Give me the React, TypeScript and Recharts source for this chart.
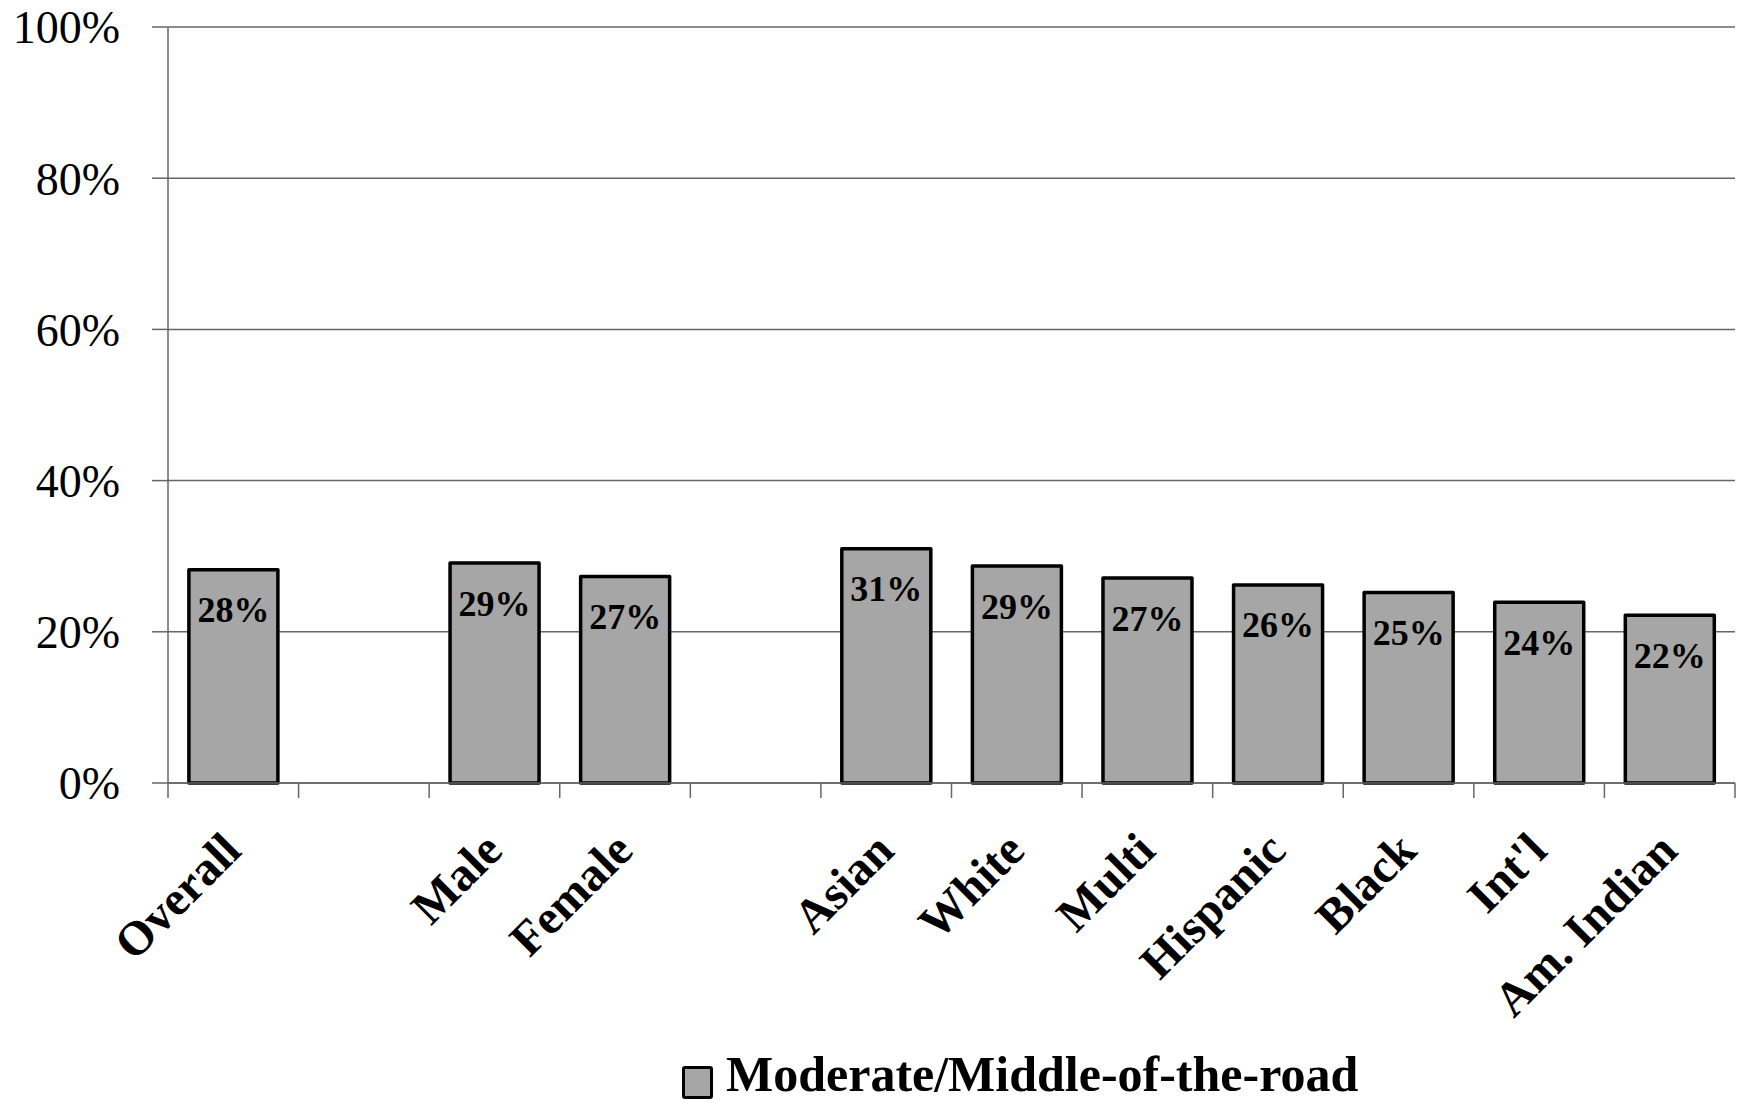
import React from 'react';
import { BarChart, Bar, XAxis, YAxis, CartesianGrid, LabelList, Legend } from 'recharts';

const categories = ['Overall', '', 'Male', 'Female', '', 'Asian', 'White', 'Multi', 'Hispanic', 'Black', "Int'l", 'Am. Indian'];
const values: (number | null)[] = [28.2, null, 29.1, 27.3, null, 31.0, 28.7, 27.1, 26.2, 25.2, 23.9, 22.2];
const yTicks = [0, 20, 40, 60, 80, 100];
const seriesName = 'Moderate/Middle-of-the-road';

const data = categories.map((c, i) => ({ name: c, value: values[i] }));

const W = 1738;
const H = 1103;
const M = { top: 27, right: 3, bottom: 0, left: 0 };
const Y_W = 168;
const PLOT_W = W - M.left - M.right - Y_W;
const BAND = PLOT_W / categories.length;
const FONT = '"Liberation Serif", "Times New Roman", serif';
const LINE = '#666666';

function XTick(props: any) {
  const { x, y, payload, index } = props;
  const left = x - BAND / 2;
  const right = x + BAND / 2;
  const ax = x + 10;
  const ay = y + 70;
  return (
    <g>
      <line x1={left} x2={left} y1={y} y2={y + 15} stroke={LINE} strokeWidth={1.5} />
      {index === categories.length - 1 && (
        <line x1={right} x2={right} y1={y} y2={y + 15} stroke={LINE} strokeWidth={1.5} />
      )}
      {payload.value ? (
        <text
          x={ax}
          y={ay}
          textAnchor="end"
          transform={`rotate(-45 ${ax} ${ay})`}
          fontFamily={FONT}
          fontSize={48}
          fontWeight="bold"
          fill="#000"
        >
          {payload.value}
        </text>
      ) : null}
    </g>
  );
}

function LegendContent() {
  return (
    <div style={{ position: 'relative', height: 43, width: W - 3 }}>
      <div
        style={{
          position: 'absolute',
          left: 682,
          top: 6,
          width: 25,
          height: 27,
          background: '#A6A6A6',
          border: '3px solid #000',
          borderRadius: 3,
        }}
      />
      <span
        style={{
          position: 'absolute',
          left: 726,
          top: -7,
          lineHeight: '43px',
          fontFamily: FONT,
          fontSize: 50,
          fontWeight: 'bold',
          color: '#000',
          whiteSpace: 'nowrap',
        }}
      >
        {seriesName}
      </span>
    </div>
  );
}

export default function App() {
  return (
    <div style={{ position: 'absolute', left: 0, top: 0, width: W, height: H, background: '#fff' }}>
      <BarChart width={W} height={H} data={data} margin={M} barCategoryGap="16%">
        <CartesianGrid vertical={false} stroke={LINE} strokeWidth={1.5} />
        <XAxis
          dataKey="name"
          interval={0}
          tickLine={false}
          tickSize={0}
          tickMargin={0}
          height={277}
          axisLine={{ stroke: LINE, strokeWidth: 1.5 }}
          tick={<XTick />}
        />
        <YAxis
          width={Y_W}
          domain={[0, 100]}
          ticks={yTicks}
          interval={0}
          tickSize={16}
          tickMargin={32}
          tickFormatter={(v: number) => `${v}%`}
          axisLine={{ stroke: LINE, strokeWidth: 1.5 }}
          tickLine={{ stroke: LINE, strokeWidth: 1.5 }}
          tick={{ fontFamily: FONT, fontSize: 46, fill: '#000' }}
        />
        <Legend verticalAlign="bottom" content={<LegendContent />} />
        <Bar
          dataKey="value"
          name={seriesName}
          fill="#A6A6A6"
          stroke="#000"
          strokeWidth={3.5}
          strokeLinejoin="round"
          isAnimationActive={false}
        >
          <LabelList
            dataKey="value"
            position="insideTop"
            offset={27}
            formatter={(v: any) => (v == null ? '' : `${Math.round(Number(v))}%`)}
            style={{ fontFamily: FONT, fontSize: 36, fontWeight: 'bold', fill: '#000' }}
          />
        </Bar>
      </BarChart>
    </div>
  );
}
